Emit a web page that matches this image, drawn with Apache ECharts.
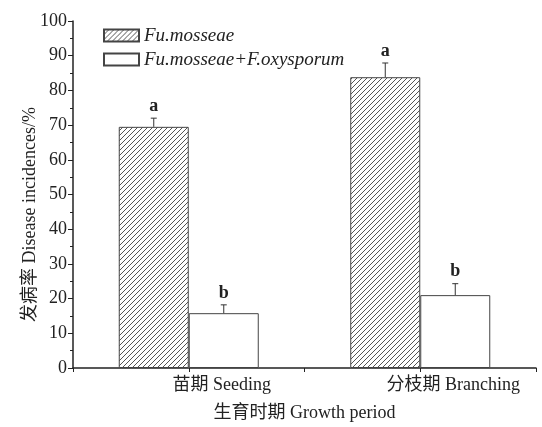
<!DOCTYPE html>
<html>
<head>
<meta charset="utf-8">
<script src="https://cdn.jsdelivr.net/npm/echarts@6/dist/echarts.min.js"></script>
<style>
  html, body { margin: 0; padding: 0; background: #fff; }
  #view { width: 542px; height: 427px; }
</style>
</head>
<body>
<div id="view"></div>
<script>
// data
var categories = ['苗期 Seeding', '分枝期 Branching'];
var seriesNames = ['Fu.mosseae', 'Fu.mosseae+F.oxysporum'];
var amfValues = [69.5, 83.8];
var amfErrors = [2.5, 4.1];
var amfLetters = ['a', 'a'];
var mixValues = [15.8, 21.0];
var mixErrors = [2.4, 3.3];
var mixLetters = ['b', 'b'];
var yTicks = [0, 10, 20, 30, 40, 50, 60, 70, 80, 90, 100];

var FONT = '"Liberation Serif", "Noto Sans CJK SC", serif';
var BAR_W = 70;

// hatch pattern for the first series
function hatch() {
    var s = 5;
    var c = document.createElement('canvas');
    c.width = s; c.height = s;
    var ctx = c.getContext('2d');
    ctx.fillStyle = '#fff';
    ctx.fillRect(0, 0, s, s);
    ctx.strokeStyle = '#555';
    ctx.lineWidth = 1;
    ctx.beginPath();
    ctx.moveTo(0, s); ctx.lineTo(s, 0);
    ctx.moveTo(-1, 1); ctx.lineTo(1, -1);
    ctx.moveTo(s - 1, s + 1); ctx.lineTo(s + 1, s - 1);
    ctx.stroke();
    return c;
}

function errData(vals, errs, letters) {
    return vals.map(function (v, i) { return [i, v, errs[i], letters[i]]; });
}

function errRender(offset) {
    return function (params, api) {
        var i = api.value(0);
        var base = api.coord([i, api.value(1)]);
        var top = api.coord([i, api.value(1) + api.value(2)]);
        var x = base[0] + offset;
        var letter = params.seriesIndex === 2 ? amfLetters[i] : mixLetters[i];
        return {
            type: 'group',
            children: [{
                type: 'line',
                shape: { x1: x, y1: base[1], x2: x, y2: top[1] },
                style: { stroke: '#333', lineWidth: 1 }
            }, {
                type: 'line',
                shape: { x1: x - 3, y1: top[1], x2: x + 3, y2: top[1] },
                style: { stroke: '#333', lineWidth: 1 }
            }, {
                type: 'text',
                style: {
                    text: letter, x: x, y: top[1] - 3,
                    align: 'center', verticalAlign: 'bottom',
                    font: 'bold 18px ' + FONT, fill: '#222'
                }
            }]
        };
    };
}

var myChart = echarts.init(document.getElementById('view'));
var option = {
    backgroundColor: '#fff',
    animation: false,
    grid: { left: 73, right: 6, top: 21, bottom: 58 },
    legend: {
        orient: 'vertical',
        left: 98, top: 21,
        icon: 'rect',
        itemWidth: 35, itemHeight: 12, itemGap: 5,
        data: seriesNames,
        textStyle: { fontFamily: FONT, fontStyle: 'italic', fontSize: 19, color: '#222' }
    },
    xAxis: [{
        type: 'category',
        data: categories,
        name: '生育时期 Growth period',
        nameLocation: 'middle',
        nameGap: 36,
        nameMoveOverlap: false,
        nameTextStyle: { fontFamily: FONT, fontSize: 18, color: '#222' },
        axisLine: { lineStyle: { color: '#222', width: 1.5 } },
        axisTick: { show: true, length: 4, lineStyle: { color: '#222' } },
        axisLabel: { fontFamily: FONT, fontSize: 18, color: '#222', margin: 8, padding: [0, 0, 0, 66] }
    }, {
        type: 'category',
        data: categories,
        position: 'bottom',
        axisLine: { show: false },
        axisTick: { show: true, alignWithLabel: true, length: 4, lineStyle: { color: '#222' } },
        axisLabel: { show: false }
    }],
    yAxis: {
        type: 'value',
        min: yTicks[0], max: yTicks[yTicks.length - 1], interval: 10,
        name: '发病率 Disease incidences/%',
        nameLocation: 'middle',
        nameGap: 34,
        nameMoveOverlap: false,
        nameTextStyle: { fontFamily: FONT, fontSize: 18, color: '#222', padding: [0, 40, 0, 0] },
        axisLine: { show: true, lineStyle: { color: '#222', width: 1.5 } },
        axisTick: { show: true, length: 5, lineStyle: { color: '#222' } },
        minorTick: { show: true, splitNumber: 2, length: 3, lineStyle: { color: '#222' } },
        splitLine: { show: false },
        axisLabel: { fontFamily: FONT, fontSize: 18, color: '#222', margin: 6 }
    },
    series: [{
        name: seriesNames[0],
        type: 'bar',
        barWidth: BAR_W,
        barGap: '0%',
        data: amfValues,
        itemStyle: { color: { image: hatch(), repeat: 'repeat' }, borderColor: '#444', borderWidth: 1 }
    }, {
        name: seriesNames[1],
        type: 'bar',
        barWidth: BAR_W,
        barGap: '0%',
        data: mixValues,
        itemStyle: { color: '#fff', borderColor: '#444', borderWidth: 1 }
    }, {
        type: 'custom',
        renderItem: errRender(-BAR_W / 2),
        data: errData(amfValues, amfErrors, amfLetters),
        encode: { x: 0, y: 1 },
        z: 5
    }, {
        type: 'custom',
        renderItem: errRender(BAR_W / 2),
        data: errData(mixValues, mixErrors, mixLetters),
        encode: { x: 0, y: 1 },
        z: 5
    }]
};
myChart.setOption(option);
</script>
</body>
</html>
